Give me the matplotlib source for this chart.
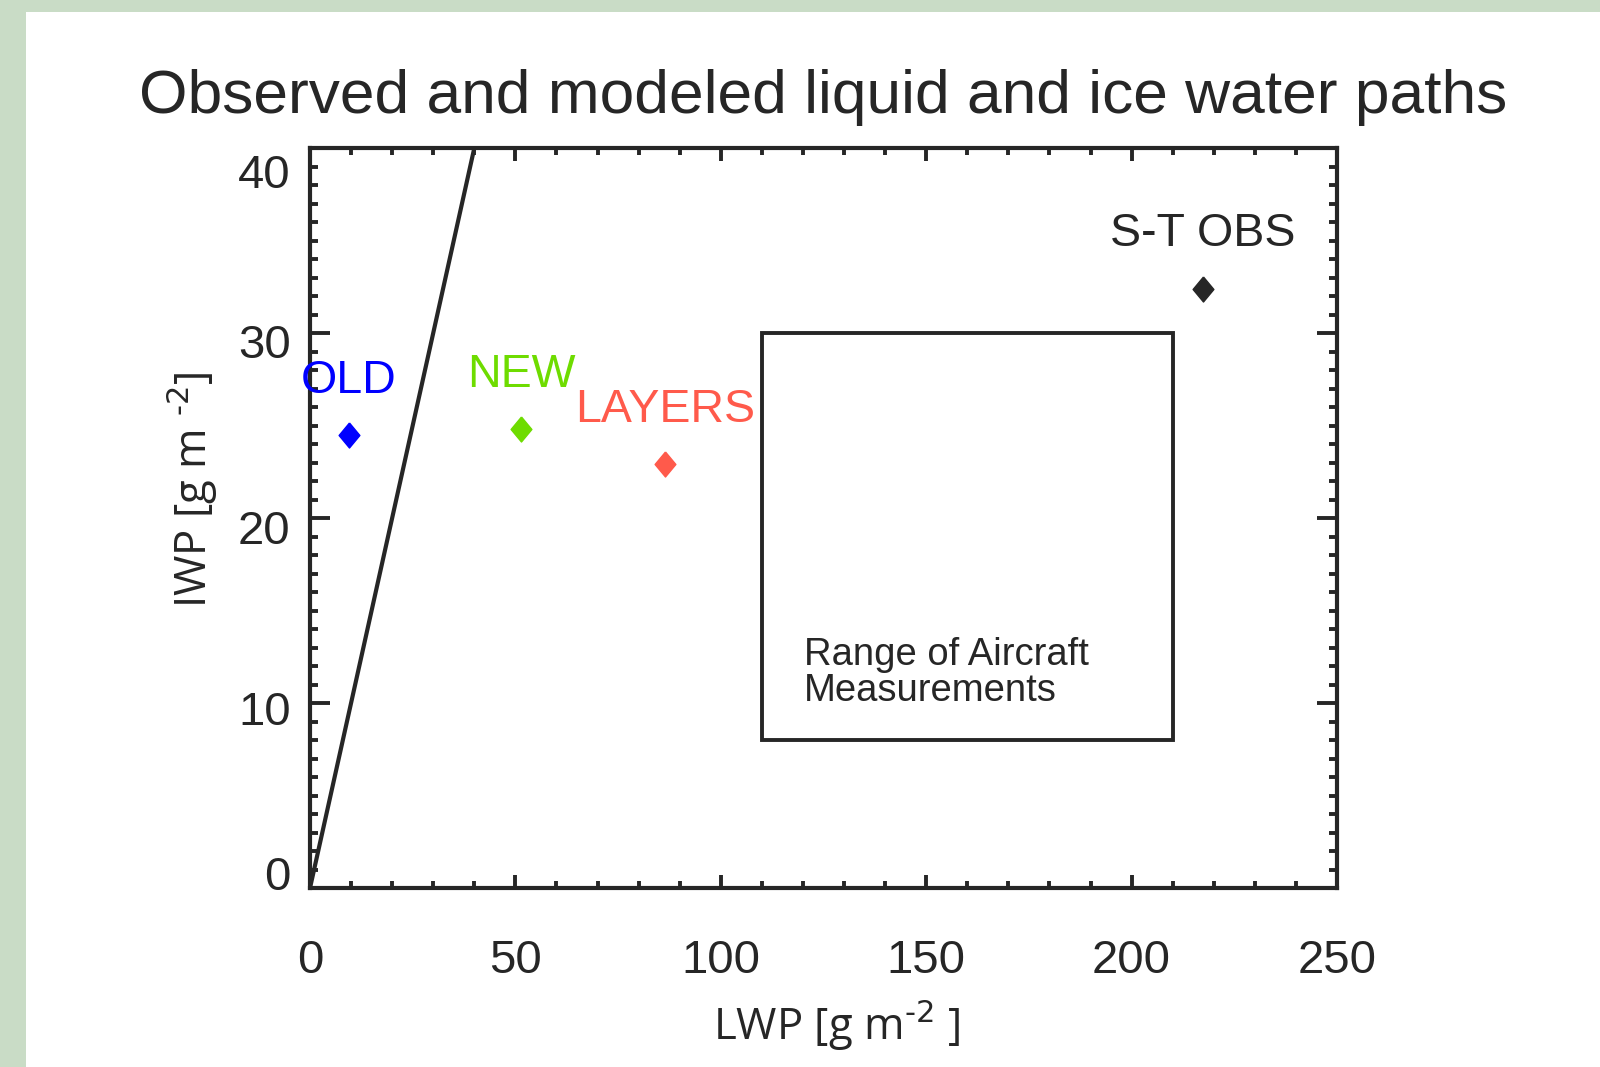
import matplotlib

matplotlib.use("Agg")
import matplotlib.pyplot as plt  # noqa: E402
import matplotlib.transforms as mtransforms  # noqa: E402
from matplotlib.patches import Rectangle  # noqa: E402
from matplotlib.path import Path  # noqa: E402

# --- observed and modeled paths [g m^-2] ---
names = ["OLD", "NEW", "LAYERS", "S-T OBS"]
lwp = [9.5, 51.4, 86.5, 217.4]
iwp = [24.5, 24.8, 22.9, 32.4]
colors = ["#0000FF", "#6EDC00", "#FF5A4B", "#262626"]

# aircraft measurement range
aircraft_lwp = [110, 210]
aircraft_iwp = [8, 30]

# 1:1 reference line
ref_line = [0, 40]

x_ticks = [0, 50, 100, 150, 200, 250]
y_ticks = [0, 10, 20, 30, 40]

INK = "#262626"
LABEL_FONT = "Liberation Sans"

plt.rcParams["mathtext.default"] = "regular"

fig = plt.figure(figsize=(16, 10.67), dpi=100)
fig.patch.set_facecolor("#C9DCC6")
# white panel inset from the left and top edges
fig.add_artist(Rectangle((26 / 1600, 0), 1, 1 - 12 / 1067, transform=fig.transFigure,
                         facecolor="white", edgecolor="none", zorder=0))

ax = fig.add_axes([310 / 1600, 1 - 888 / 1067, 1027 / 1600, 740 / 1067])
ax.set_xlim(0, 250)
ax.set_ylim(0, 40)

ax.plot(ref_line, ref_line, color=INK, lw=3, solid_capstyle="butt", zorder=3)
ax.add_patch(Rectangle((aircraft_lwp[0], aircraft_iwp[0]),
                       aircraft_lwp[1] - aircraft_lwp[0],
                       aircraft_iwp[1] - aircraft_iwp[0],
                       fill=False, edgecolor=INK, lw=2.8, zorder=3))
ax.text(120.3, 11.6, "Range of Aircraft\nMeasurements", fontsize=27.5,
        family=LABEL_FONT, color=INK, ha="left", va="center", linespacing=1.0)

# slightly tall diamond
diamond = Path([(0, 1), (0.83, 0), (0, -1), (-0.83, 0), (0, 1)])
for name, x, y, c in zip(names, lwp, iwp, colors):
    ax.plot(x, y, marker=diamond, ms=18, color=c, mec=c, mew=1, ls="none", zorder=4)
    ax.annotate(name, (x, y), xytext=(0, 39), textcoords="offset points",
                ha="center", va="center", fontsize=33.5, family=LABEL_FONT, color=c)

for s in ax.spines.values():
    s.set_linewidth(3)
    s.set_color(INK)

ax.set_xticks(x_ticks)
ax.set_yticks(y_ticks)
ax.set_xticks(range(0, 251, 10), minor=True)
ax.set_yticks(range(0, 41, 1), minor=True)
ax.tick_params(axis="both", which="both", direction="in", top=True, right=True,
               color=INK, width=2.8)
ax.tick_params(axis="x", which="major", length=9.5, pad=37)
ax.tick_params(axis="x", which="minor", length=5)
ax.tick_params(axis="y", which="major", length=14.5, pad=14)
ax.tick_params(axis="y", which="minor", length=6)
for lab in ax.get_xticklabels() + ax.get_yticklabels():
    lab.set_fontsize(34)
    lab.set_family(LABEL_FONT)
    lab.set_color(INK)

# y labels sit a little off their ticks (pixels, + is down)
y_label_shift = [-15, 5, 9, 8, 23]
for lab, dy in zip(ax.get_yticklabels(), y_label_shift):
    lab.set_transform(lab.get_transform()
                      + mtransforms.ScaledTranslation(0, -dy / 100, fig.dpi_scale_trans))

ax.set_xlabel(r"LWP [g m$^{\text{-2}}$ ]", fontsize=31.5, family="Open Sans", color=INK)
ax.xaxis.set_label_coords(0.513, -0.148)
ax.set_ylabel(r"IWP [g m $^{\text{-2}}$]", fontsize=31.5, family="Open Sans", color=INK)
ax.yaxis.set_label_coords(-0.088, 0.538)

fig.text(823 / 1600, 1 - 97 / 1067, "Observed and modeled liquid and ice water paths",
         ha="center", va="center", fontsize=44.8, family=LABEL_FONT, color=INK)

fig.savefig("out.png", dpi=100, facecolor=fig.get_facecolor())
